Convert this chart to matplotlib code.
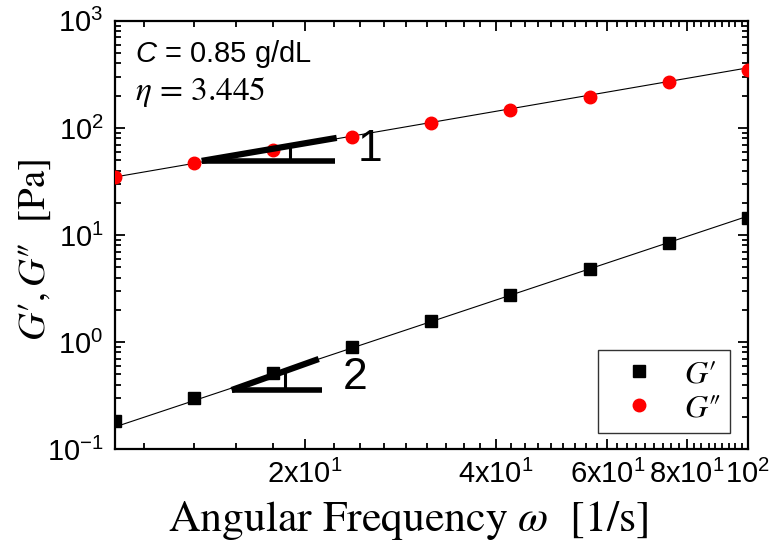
import numpy as np
import matplotlib
matplotlib.use("Agg")
import matplotlib.pyplot as plt
from matplotlib.ticker import FixedLocator, NullFormatter, LogLocator

plt.rcParams["font.family"] = "Liberation Sans"
plt.rcParams["mathtext.fontset"] = "custom"
plt.rcParams["mathtext.rm"] = "Liberation Sans"
plt.rcParams["mathtext.it"] = "Liberation Sans:italic"
plt.rcParams["axes.unicode_minus"] = False

# ==============================
# DATA
# ==============================
freq = [10.0, 13.34, 17.78, 23.71, 31.62, 42.17, 56.23, 74.99, 100.0]
g_storage = [0.183, 0.300, 0.513, 0.897, 1.57, 2.75, 4.81, 8.41, 14.4]
g_loss = [34.8, 47.1, 62.2, 82.4, 111.0, 147.0, 195.0, 266.0, 348.0]

# power-law fits  G = K * w^n
fit_storage = (0.001722, 1.97)
fit_loss = (3.32, 1.02)

xtick_vals = [20, 40, 60, 80, 100]
xtick_labels = [r"$\mathregular{2x10^{1}}$", r"$\mathregular{4x10^{1}}$",
                r"$\mathregular{6x10^{1}}$", r"$\mathregular{8x10^{1}}$",
                r"$\mathregular{10^{2}}$"]

# ==============================
# FIGURE
# ==============================
fig = plt.figure(figsize=(7.75, 5.49), dpi=100)
ax = fig.add_axes([0.148, 0.182, 0.817, 0.780])
ax.set_xscale("log")
ax.set_yscale("log")
ax.set_xlim(10, 100)
ax.set_ylim(0.1, 1000)

w = np.logspace(1, 2, 200)
ax.plot(w, fit_storage[0] * w ** fit_storage[1], color="black", lw=0.8, zorder=2)
ax.plot(w, fit_loss[0] * w ** fit_loss[1], color="black", lw=0.8, zorder=2)

ax.plot(freq, g_storage, "s", color="black", ms=8, label="$G′$", zorder=3)
ax.plot(freq, g_loss, "o", color="red", ms=9, label="$G″$", zorder=3)

# slope triangles
tri_kw = dict(color="black", solid_capstyle="butt", zorder=4)
ax.plot([13.72, 22.26], [49.2, 49.2], lw=4.0, **tri_kw)
ax.plot([13.72, 22.42], [49.2, 80.7], lw=4.5, **tri_kw)
ax.plot([18.9, 18.9], [49.2, 67.0], lw=2.2, **tri_kw)
ax.text(24.2, 62.3, "1", fontsize=32, ha="left", va="center")

ax.plot([15.30, 21.23], [0.356, 0.356], lw=4.0, **tri_kw)
ax.plot([15.30, 21.0], [0.356, 0.694], lw=4.5, **tri_kw)
ax.plot([18.56, 18.56], [0.356, 0.53], lw=2.2, **tri_kw)
ax.text(22.9, 0.466, "2", fontsize=32, ha="left", va="center")

# annotations
ax.text(0.032, 0.922, r"$C$ = 0.85 g/dL", transform=ax.transAxes,
        fontsize=21, ha="left", va="center")
ax.text(0.032, 0.835, r"$\eta$ = 3.445", transform=ax.transAxes,
        fontsize=24, ha="left", va="center", family="STIXGeneral",
        math_fontfamily="stix")

# ==============================
# AXES / TICKS
# ==============================
ax.xaxis.set_major_locator(FixedLocator(xtick_vals))
ax.set_xticklabels(xtick_labels)
ax.xaxis.set_minor_locator(FixedLocator([k * 20 / 9 for k in range(5, 46) if k % 9]))
ax.xaxis.set_minor_formatter(NullFormatter())
ax.yaxis.set_major_locator(LogLocator(base=10))
ax.yaxis.set_minor_locator(LogLocator(base=10, subs=np.arange(2, 10)))
ax.yaxis.set_minor_formatter(NullFormatter())

ax.tick_params(which="both", direction="in", top=True, right=True, width=1.3)
ax.tick_params(which="major", length=7, labelsize=21, pad=8)
ax.tick_params(which="minor", length=4)
for sp in ax.spines.values():
    sp.set_linewidth(1.6)

fig.text(408 / 775, 1 - 520 / 549, r"Angular Frequency $\omega$  [1/s]",
         fontsize=31.5, family="STIXGeneral", math_fontfamily="stix",
         ha="center", va="center")
fig.text(35 / 775, 1 - 250 / 549, "$G′,G″$  [Pa]", rotation=90,
         fontsize=28, family="STIXGeneral", math_fontfamily="stix",
         ha="center", va="center")

leg = ax.legend(loc="lower right", bbox_to_anchor=(0.972, 0.037),
                frameon=True, fancybox=False, borderpad=0.3,
                handlelength=2.0, handletextpad=0.4, labelspacing=0.15,
                borderaxespad=0, prop={"family": "STIXGeneral", "size": 23})
leg.get_frame().set_edgecolor("black")
leg.get_frame().set_linewidth(1.0)
for t in leg.get_texts():
    t.set_math_fontfamily("stix")

plt.savefig("out.png", dpi=100)
